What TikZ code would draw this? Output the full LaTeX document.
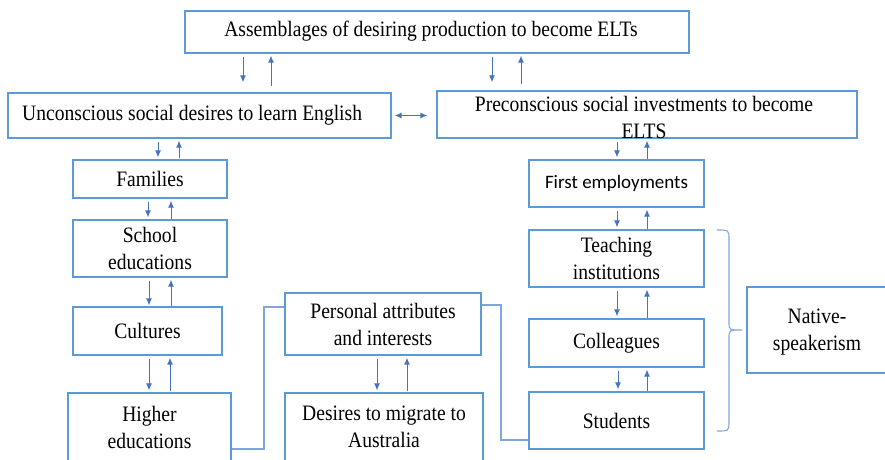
\documentclass[tikz,border=0pt]{standalone}
\usepackage{fontspec}
\usepackage{graphicx}
\setmainfont{Liberation Serif}
\newfontfamily\calfont{Carlito}
\usetikzlibrary{arrows.meta,calc}
\definecolor{boxblue}{HTML}{5B9BD5}
\definecolor{arrblue}{HTML}{4472C4}
\definecolor{lineblue}{HTML}{7EA6DA}
\newcommand\sq[1]{\scalebox{0.89}[1]{#1}}
\newcommand\twoway[6]{%
  \draw[arr] ($(#1.south -| #3,0)+(0,3)$) -- ($(#2.north -| #3,0)+(0,-#5)$);
  \draw[arr] ($(#2.north -| #4,0)+(0,-#6)$) -- ($(#1.south -| #4,0)+(0,2)$);}
\begin{document}
\begin{tikzpicture}[x=1pt,y=-1pt,
  box/.style={draw=boxblue, line width=1.3pt, inner sep=0pt, align=center, font=\fontsize{22}{27}\selectfont},
  txt/.style={inner sep=0pt, align=center, font=\fontsize{22}{27}\selectfont},
  arr/.style={draw=arrblue, line width=1pt, -{Latex[length=7pt,width=6pt]}},
  dbl/.style={draw=arrblue, line width=1pt, {Latex[length=7pt,width=6pt]}-{Latex[length=7pt,width=6pt]}},
  conn/.style={draw=lineblue, line width=1.1pt}]
\clip (0,0) rectangle (885,459);
% boxes
\node[box, minimum width=504, minimum height=42] (top) at (437,32) {};
\node[txt] (toptxt) at (431,31) {\sq{Assemblages of desiring production to become ELTs}};
\node[box, minimum width=383, minimum height=45] (unc) at (199.5,115.5) {};
\node[txt, anchor=west] (unctxt) at (22,115) {\sq{Unconscious social desires to learn English}};
\node[box, minimum width=420, minimum height=47] (pre) at (647,114.5) {};
\node[txt] (pretxt) at (644,117) {\sq{Preconscious social investments to become}\\\sq{ELTS}};
\node[box, minimum width=154, minimum height=38] (fam) at (150,179) {\sq{Families}};
\node[box, minimum width=154, minimum height=57] (sch) at (150,248.5) {\sq{School}\\\sq{educations}};
\node[box, minimum width=149, minimum height=48] (cul) at (147.5,331) {\sq{Cultures}};
\node[box, minimum width=163, minimum height=68] (hig) at (149.5,427) {\sq{Higher}\\\sq{educations}};
\node[box, minimum width=196, minimum height=62] (per) at (383,324) {\sq{Personal attributes}\\\sq{and interests}};
\node[box, minimum width=198, minimum height=68] (des) at (384,427) {\sq{Desires to migrate to}\\\sq{Australia}};
\node[box, minimum width=175, minimum height=47, font=\calfont\fontsize{19}{23}\selectfont] (fir) at (616.5,183.5) {First employments};
\node[box, minimum width=175, minimum height=57] (tea) at (616.5,258.5) {\sq{Teaching}\\\sq{institutions}};
\node[box, minimum width=175, minimum height=48] (col) at (616.5,343) {\sq{Colleagues}};
\node[box, minimum width=175, minimum height=57] (stu) at (616.5,420.5) {\sq{Students}};
\node[box, minimum width=143, minimum height=86] (nat) at (818.5,330) {};
\node[txt] (nattxt) at (817,332) {\sq{Native-}\\\sq{speakerism}};
% arrows
\twoway{top}{unc}{243}{271}{10}{6}
\twoway{top}{pre}{492}{521}{8}{6}
\twoway{unc}{fam}{158}{179}{2}{1}
\twoway{fam}{sch}{148}{171}{2}{0}
\twoway{sch}{cul}{149}{171}{1}{0}
\twoway{cul}{hig}{149}{170}{2}{1}
\twoway{per}{des}{377}{407}{2}{1}
\twoway{pre}{fir}{617}{647}{2}{0}
\twoway{fir}{tea}{617}{647}{2}{0}
\twoway{tea}{col}{617}{647}{2}{0}
\twoway{col}{stu}{618}{647}{2}{0}
\draw[dbl] ($(unc.east)+(3,0)$) -- ($(unc.east -| pre.west)+(-9,0)$);
% connectors
\draw[conn] (hig.east |- 0,449) -| (264,307) -- (per.west |- 0,307);
\draw[conn] (per.east |- 0,305) -| (501,440) -- (stu.west |- 0,440);
% brace
\draw[conn] (717,230) .. controls (729,230) .. (729,240) -- (729,322)
  .. controls (729,330) .. (742,330) .. controls (729,330) .. (729,338)
  -- (729,421) .. controls (729,431) .. (717,431);
\end{tikzpicture}
\end{document}
